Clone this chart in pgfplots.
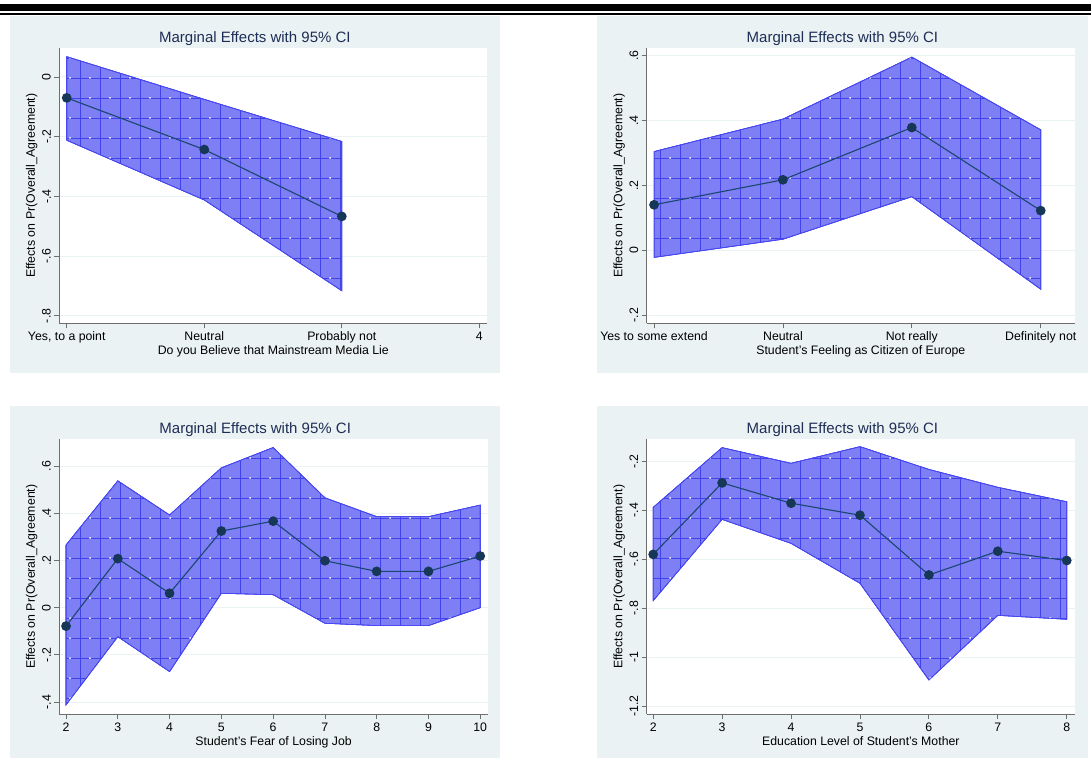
\documentclass[border=0pt]{standalone}
\usepackage{fontspec}
\setmainfont{Liberation Sans}
\usepackage{pgfplots}
\pgfplotsset{compat=1.18}
\usetikzlibrary{patterns.meta}
\definecolor{bgc}{RGB}{234,242,243}
\definecolor{gridc}{RGB}{234,242,243}
\definecolor{axgray}{RGB}{110,110,110}
\definecolor{titlec}{RGB}{30,45,85}
\definecolor{navyl}{RGB}{26,71,111}
\definecolor{markc}{RGB}{22,55,88}
\definecolor{bandfill}{RGB}{126,126,245}
\definecolor{bandgrid}{RGB}{66,66,234}
\definecolor{bandedge}{RGB}{70,70,240}
\pgfplotsset{
  me/.style={
    scale only axis, anchor=south west,
    axis x line*=bottom, axis y line*=left,
    axis line style={draw=axgray, line width=0.9pt},
    tick style={draw=axgray, line width=0.8pt},
    tick align=outside, major tick length=5pt,
    minor tick num=0,
    ymajorgrids, grid style={draw=gridc, line width=1pt},
    axis background/.style={fill=white},
    tick label style={font=\fontsize{12.3}{14}\selectfont, text=black},
    /pgf/number format/assume math mode=true,
    yticklabel style={rotate=90, anchor=south},
    every axis title shift=0pt,
    every axis title/.style={at={(axis description cs:0.457,1.021)}, anchor=base, font=\fontsize{15}{18}\selectfont, text=titlec},
    every axis x label/.style={at={(axis description cs:0.5,-0.115)}, anchor=base, font=\fontsize{12.3}{14}\selectfont},
    every axis y label/.style={at={(axis description cs:-0.057,0.5)}, rotate=90, anchor=base, font=\fontsize{12.3}{14}\selectfont},
    title={Marginal Effects with 95\% CI},
    ylabel={Effects on Pr(Overall\_Agreement)},
    clip=true,
  },
  band/.style={fill=bandfill, draw=bandedge, line width=0.6pt,
    postaction={pattern={Hatch[distance=20pt,line width=0.7pt]}, pattern color=bandgrid},
    postaction={pattern={Dots[distance=20pt,radius=1pt,xshift=10pt]}, pattern color=white}},
  est/.style={draw=navyl, line width=1.1pt, mark=*, mark size=4.3pt, mark options={fill=markc, draw=markc}},
}
\begin{document}
\begin{tikzpicture}[x=1pt,y=1pt]
\useasboundingbox (0,0) rectangle (1091,758);
\fill[white] (0,0) rectangle (1091,758);
\fill[black] (0,747) rectangle (1091,754);
\fill[black] (0,743) rectangle (1091,745.3);
\fill[bgc] (10,385.3) rectangle (500,742);
\fill[bgc] (597.3,385.3) rectangle (1087.7,742);
\fill[bgc] (10,0.3) rectangle (500,352);
\fill[bgc] (597.3,0.3) rectangle (1087.7,352);

% Panel 1
\begin{axis}[me, at={(59.3pt,434.7pt)}, width=428pt, height=275.3pt,
  xmin=0.946, xmax=4.058, ymin=-0.825, ymax=0.097,
  xtick={1,2,3,4}, xticklabels={{Yes, to a point},Neutral,Probably not,4},
  ytick={-0.8,-0.6,-0.4,-0.2,0}, yticklabels={-.8,-.6,-.4,-.2,0},
  xlabel={Do you Believe that Mainstream Media Lie}]
\addplot[band] coordinates {(1,0.068) (2,-0.075) (3,-0.216) (3,-0.716) (2,-0.412) (1,-0.212)} -- cycle;
\addplot[est] coordinates {(1,-0.070) (2,-0.243) (3,-0.467)};
\end{axis}

% Panel 2
\begin{axis}[me, at={(646.7pt,434.7pt)}, width=428.3pt, height=275.3pt,
  xmin=0.943, xmax=4.266, ymin=-0.225, ymax=0.623,
  xtick={1,2,3,4}, xticklabels={Yes to some extend,Neutral,Not really,Definitely not},
  ytick={-0.2,0,0.2,0.4,0.6}, yticklabels={-.2,0,.2,.4,.6},
  xlabel={Student's Feeling as Citizen of Europe}]
\addplot[band] coordinates {(1,0.304) (2,0.404) (3,0.595) (4,0.371) (4,-0.120) (3,0.165) (2,0.034) (1,-0.022)} -- cycle;
\addplot[est] coordinates {(1,0.140) (2,0.217) (3,0.378) (4,0.122)};
\end{axis}

% Panel 3
\begin{axis}[me, at={(59.3pt,43.7pt)}, width=428.7pt, height=275pt,
  xmin=1.87, xmax=10.15, ymin=-0.452, ymax=0.714,
  xtick={2,3,4,5,6,7,8,9,10},
  ytick={-0.4,-0.2,0,0.2,0.4,0.6}, yticklabels={-.4,-.2,0,.2,.4,.6},
  xlabel={Student's Fear of Losing Job}]
\addplot[band] coordinates {(2,0.266) (3,0.538) (4,0.393) (5,0.593) (6,0.679) (7,0.466) (8,0.386) (9,0.386) (10,0.435)
  (10,0.000) (9,-0.076) (8,-0.076) (7,-0.066) (6,0.055) (5,0.061) (4,-0.271) (3,-0.123) (2,-0.412)} -- cycle;
\addplot[est] coordinates {(2,-0.078) (3,0.208) (4,0.061) (5,0.325) (6,0.367) (7,0.199) (8,0.154) (9,0.154) (10,0.219)};
\end{axis}

% Panel 4
\begin{axis}[me, at={(646.7pt,43.7pt)}, width=428.3pt, height=275pt,
  xmin=1.906, xmax=8.12, ymin=-1.233, ymax=-0.110,
  xtick={2,3,4,5,6,7,8},
  ytick={-1.2,-1,-0.8,-0.6,-0.4,-0.2}, yticklabels={-1.2,-1,-.8,-.6,-.4,-.2},
  xlabel={Education Level of Student's Mother}]
\addplot[band] coordinates {(2,-0.388) (3,-0.144) (4,-0.208) (5,-0.140) (6,-0.233) (7,-0.306) (8,-0.365)
  (8,-0.845) (7,-0.829) (6,-1.093) (5,-0.698) (4,-0.535) (3,-0.437) (2,-0.769)} -- cycle;
\addplot[est] coordinates {(2,-0.580) (3,-0.288) (4,-0.371) (5,-0.420) (6,-0.664) (7,-0.567) (8,-0.605)};
\end{axis}
\end{tikzpicture}
\end{document}
